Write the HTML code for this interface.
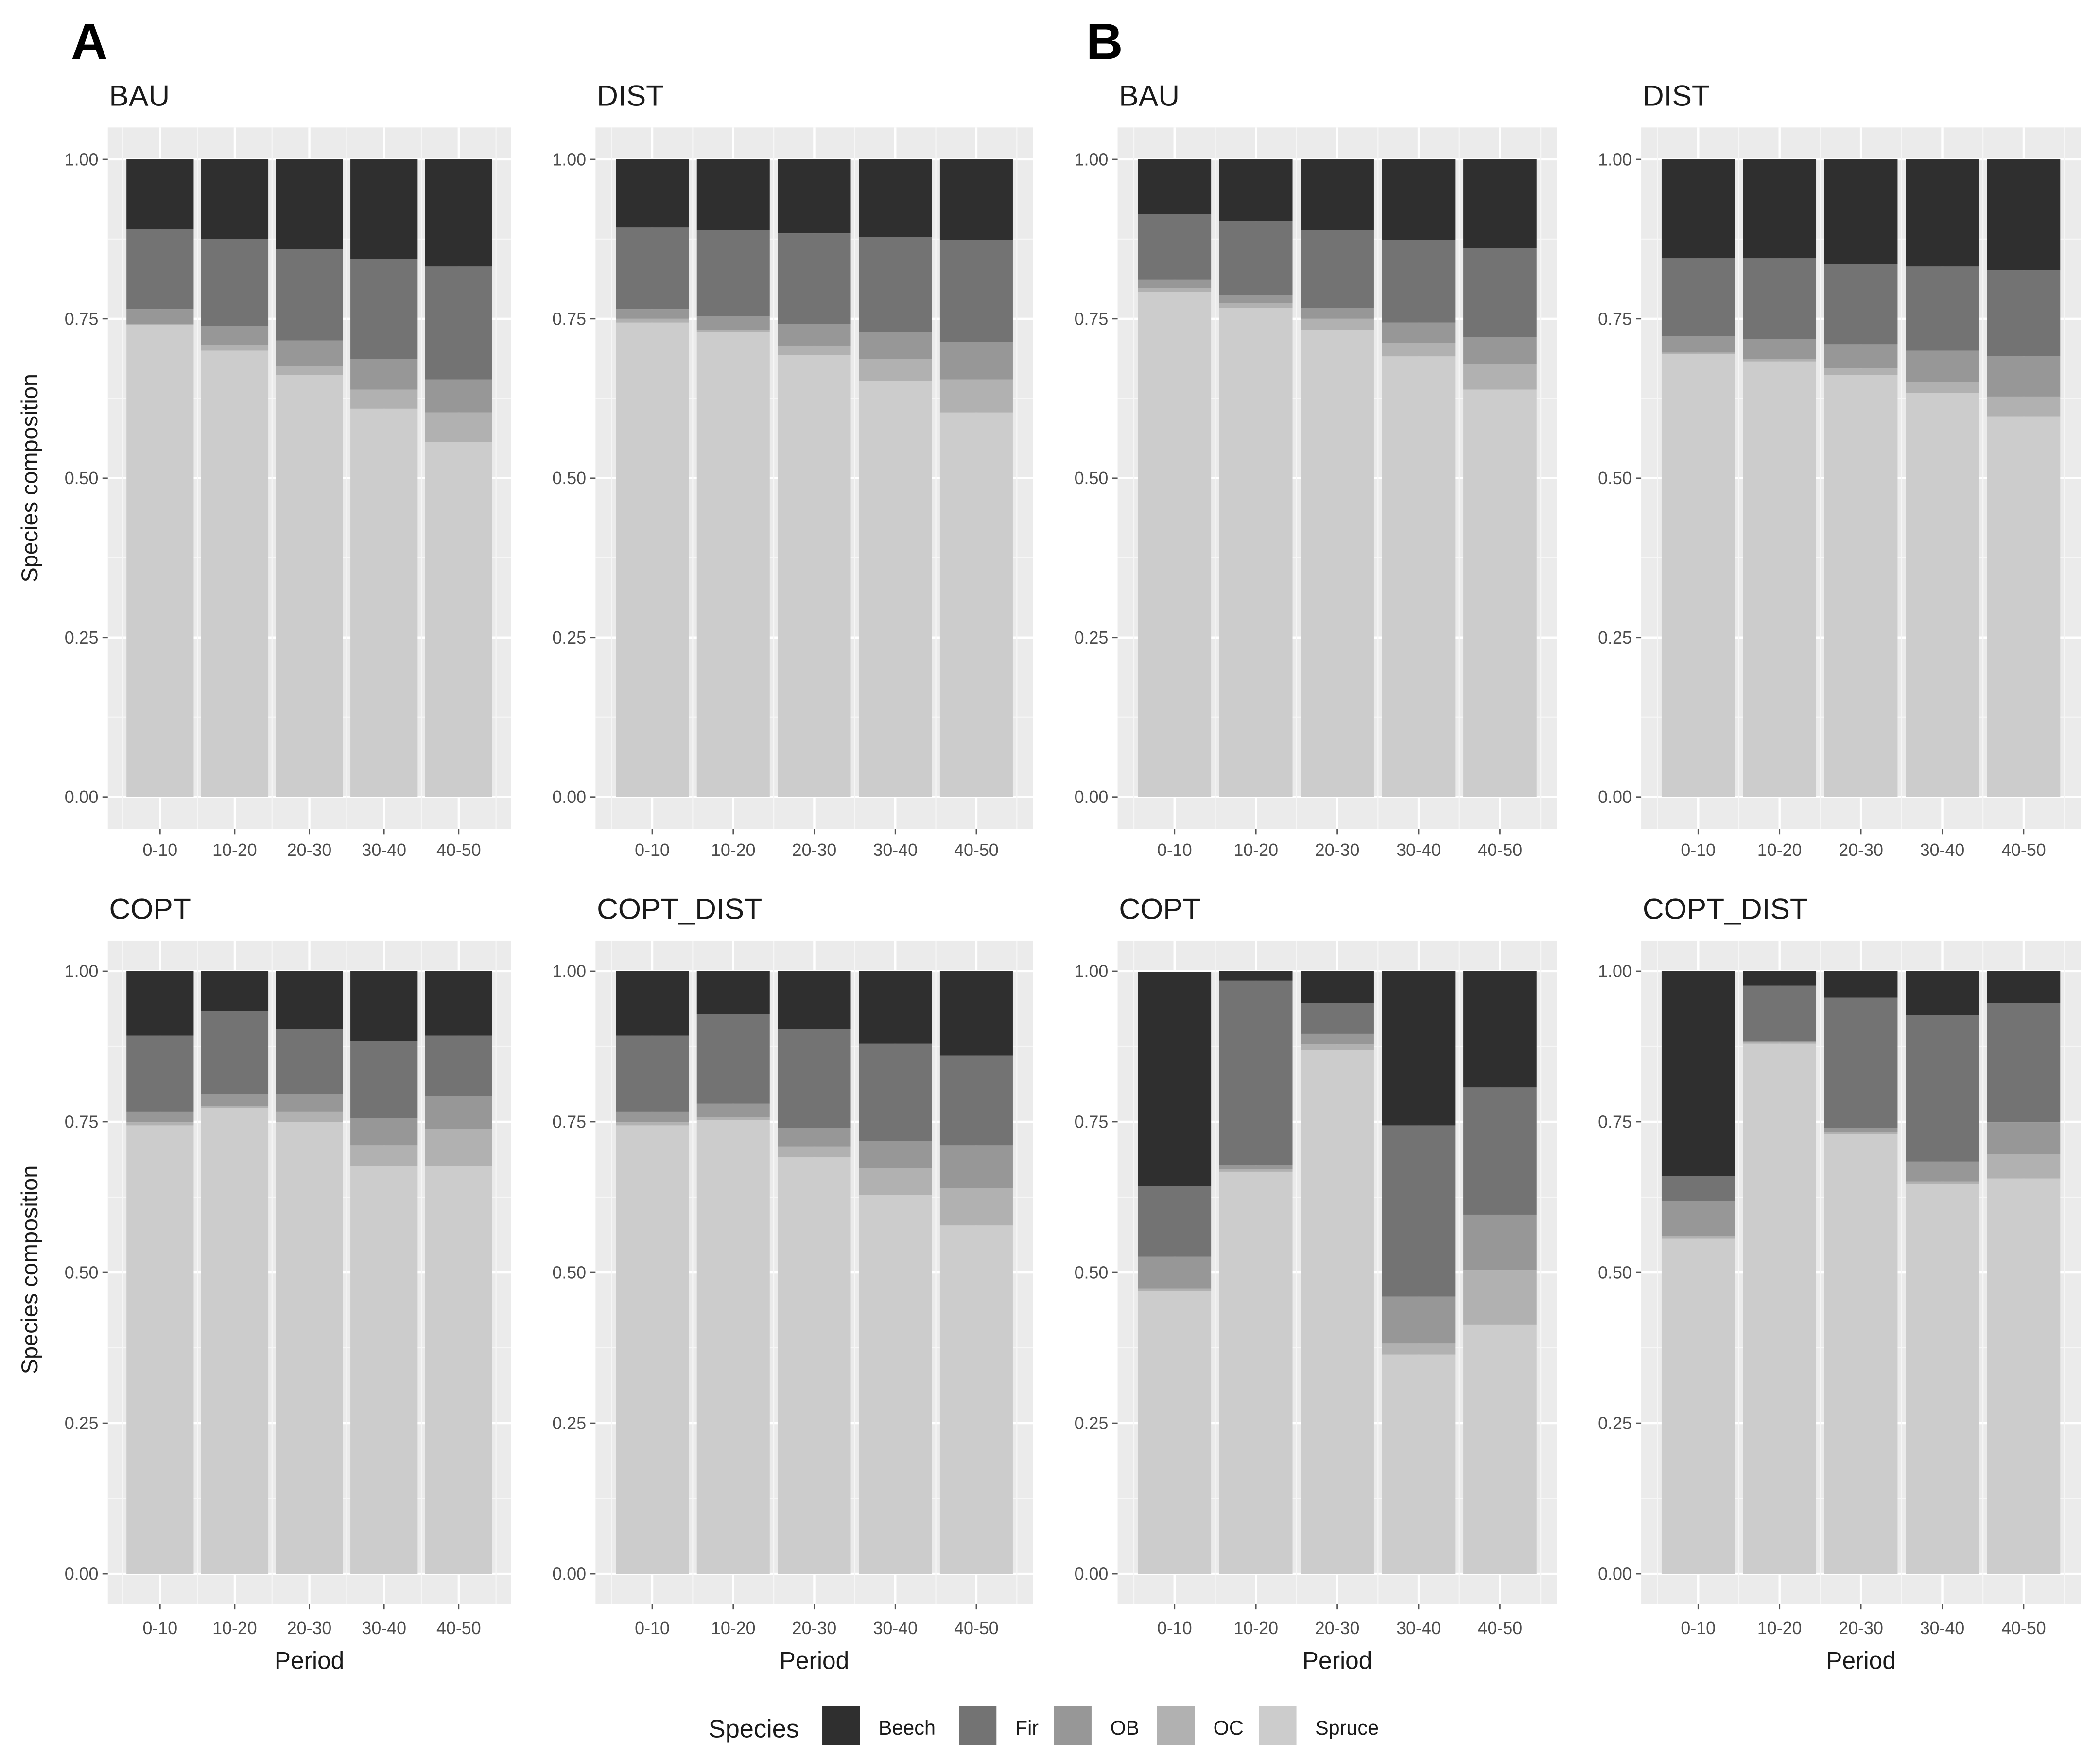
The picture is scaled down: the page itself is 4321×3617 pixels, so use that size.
<!DOCTYPE html>
<html><head><meta charset="utf-8"><style>
html,body{margin:0;padding:0;background:#fff}
svg{display:block}
text{font-family:"Liberation Sans",sans-serif}
</style></head><body>
<svg id="chart" width="4321" height="3617" viewBox="0 0 1568 1312.5" preserveAspectRatio="none" xmlns="http://www.w3.org/2000/svg"></svg>
<script>
const categories = ["0-10","10-20","20-30","30-40","40-50"];
const species = ["Spruce","OC","OB","Fir","Beech"];
const yTicks = [0, 0.25, 0.5, 0.75, 1];
const yTickLabels = ["0.00","0.25","0.50","0.75","1.00"];
const panelTitles = ["BAU","DIST","BAU","DIST","COPT","COPT_DIST","COPT","COPT_DIST"];
const aBauSpruce=[.74,.70,.662,.609,.557], aBauOC=[.002,.009,.014,.03,.046], aBauOB=[.023,.03,.04,.048,.052], aBauFir=[.125,.136,.143,.157,.177], aBauBeech=[.11,.125,.141,.156,.168];
const aDistSpruce=[.744,.729,.693,.653,.603], aDistOC=[.006,.004,.015,.034,.052], aDistOB=[.015,.021,.034,.042,.059], aDistFir=[.128,.135,.142,.149,.16], aDistBeech=[.107,.111,.116,.122,.126];
const bBauSpruce=[.792,.767,.733,.691,.639], bBauOC=[.006,.008,.017,.021,.04], bBauOB=[.013,.013,.017,.032,.042], bBauFir=[.103,.115,.122,.13,.14], bBauBeech=[.086,.097,.111,.126,.139];
const bDistSpruce=[.695,.683,.662,.634,.597], bDistOC=[.002,.004,.01,.017,.031], bDistOB=[.026,.031,.038,.049,.063], bDistFir=[.122,.127,.126,.132,.135], bDistBeech=[.155,.155,.164,.168,.174];
const aCoptSpruce=[.744,.773,.749,.676,.676], aCoptOC=[.005,.003,.018,.035,.062], aCoptOB=[.018,.02,.029,.045,.055], aCoptFir=[.126,.137,.108,.128,.10], aCoptBeech=[.107,.067,.096,.116,.107];
const aCdSpruce=[.744,.753,.691,.629,.578], aCdOC=[.005,.005,.018,.044,.062], aCdOB=[.018,.022,.031,.045,.071], aCdFir=[.126,.149,.164,.162,.149], aCdBeech=[.107,.071,.096,.12,.14];
const bCoptSpruce=[.469,.667,.869,.364,.413], bCoptOC=[.004,.004,.009,.018,.091], bCoptOB=[.053,.007,.018,.078,.092], bCoptFir=[.117,.306,.051,.284,.211], bCoptBeech=[.356,.016,.053,.256,.193];
const bCdSpruce=[.556,.88,.729,.647,.656], bCdOC=[.004,.002,.004,.004,.04], bCdOB=[.058,.002,.007,.033,.053], bCdFir=[.042,.092,.216,.243,.198], bCdBeech=[.34,.024,.044,.073,.053];

const panelData=[
 [aBauSpruce,aBauOC,aBauOB,aBauFir,aBauBeech],
 [aDistSpruce,aDistOC,aDistOB,aDistFir,aDistBeech],
 [bBauSpruce,bBauOC,bBauOB,bBauFir,bBauBeech],
 [bDistSpruce,bDistOC,bDistOB,bDistFir,bDistBeech],
 [aCoptSpruce,aCoptOC,aCoptOB,aCoptFir,aCoptBeech],
 [aCdSpruce,aCdOC,aCdOB,aCdFir,aCdBeech],
 [bCoptSpruce,bCoptOC,bCoptOB,bCoptFir,bCoptBeech],
 [bCdSpruce,bCdOC,bCdOB,bCdFir,bCdBeech]];
const colors={Spruce:"#cccccc",OC:"#b1b1b1",OB:"#979797",Fir:"#737373",Beech:"#2f2f2f"};
const cols=[{c3:231,u:55.75},{c3:608,u:60.5},{c3:998.5,u:60.75},{c3:1389.5,u:60.75}];
const rows=[{y1:119,y0:595,title:71,tick:635},{y1:725,y0:1175,title:678,tick:1216}];
const svg=document.getElementById('chart');
const NS="http://www.w3.org/2000/svg";
function el(tag,attrs,parent,txt){const e=document.createElementNS(NS,tag);for(const k in attrs)e.setAttribute(k,attrs[k]);if(txt!==undefined)e.textContent=txt;(parent||svg).appendChild(e);return e;}

panelData.forEach((data,p)=>{
  const col=cols[p%4], row=rows[Math.floor(p/4)];
  const xs=i=>col.c3+(i-2)*col.u;
  const ys=v=>row.y0-v*(row.y0-row.y1);
  const g=el('g',{});
  
  
  const bx0=col.c3-2.7*col.u, bx1=col.c3+2.7*col.u, by0=ys(-0.05), by1=ys(1.05);
  const bg=el('rect',{x:bx0,y:by1,width:bx1-bx0,height:by0-by1,fill:'#ebebeb'},g);
  
  
  for(let k=0;k<=8;k++){const v=k*0.125;const major=k%2===0;
    el('line',{x1:bx0,x2:bx1,y1:ys(v),y2:ys(v),stroke:major?'#fff':'#f6f6f6','stroke-width':major?1.6:0.8},g);}
  for(let k=-0.5;k<=4.5;k+=0.5){const major=Number.isInteger(k);
    el('line',{x1:xs(k),x2:xs(k),y1:by1,y2:by0,stroke:major?'#fff':'#f6f6f6','stroke-width':major?1.6:0.8},g);}
  categories.forEach((cat,i)=>{
    let cum=0;
    species.forEach((sp,s)=>{
      const v=data[s][i];
      const r=el('rect',{x:xs(i)-0.45*col.u,width:0.9*col.u,y:ys(cum+v),height:ys(cum)-ys(cum+v),fill:colors[sp]},g);
      
      
      cum+=v;
    });
    el('line',{x1:xs(i),x2:xs(i),y1:by0,y2:by0+4,stroke:'#555','stroke-width':1},g);
    const t=el('text',{x:xs(i),y:row.tick+4,'font-size':13,fill:'#4d4d4d','text-anchor':'middle'},g,cat);
    
    
  });
  yTicks.forEach((v,j)=>{
    el('line',{x1:bx0-4,x2:bx0,y1:ys(v),y2:ys(v),stroke:'#555','stroke-width':1},g);
    const t=el('text',{x:bx0-7,y:ys(v)+4.5,'font-size':13,fill:'#4d4d4d','text-anchor':'end'},g,yTickLabels[j]);
    
    
  });
  const tt=el('text',{x:bx0+1,y:row.title+8,'font-size':22,fill:'#1a1a1a'},g,panelTitles[p]);
  
  
  if(p>=4){const pt=el('text',{x:col.c3,y:1246,'font-size':18,fill:'#1a1a1a','text-anchor':'middle'},g,'Period');
    
    }
});
[357,948].forEach(cy=>{const t=el('text',{x:0,y:0,'font-size':17,fill:'#1a1a1a','text-anchor':'middle',transform:`translate(28,${cy}) rotate(-90)`},svg,'Species composition');
  
  });
[["A",53],["B",811]].forEach(([l,x])=>{const t=el('text',{x:x,y:44,'font-size':38,'font-weight':'bold',fill:'#000'},svg,l);
  
  });
const lt=el('text',{x:529,y:1297,'font-size':19,fill:'#1a1a1a'},svg,'Species');


const legendOrder=["Beech","Fir","OB","OC","Spruce"];
const legendX=[614,716,787,864,940];
legendOrder.forEach((sp,i)=>{
  const g=el('g',{});
  
  
  el('rect',{x:legendX[i],y:1274,width:28,height:29,fill:colors[sp]},g);
  el('text',{x:legendX[i]+42,y:1295,'font-size':15,fill:'#1a1a1a'},g,sp);
});
</script>
</body></html>
